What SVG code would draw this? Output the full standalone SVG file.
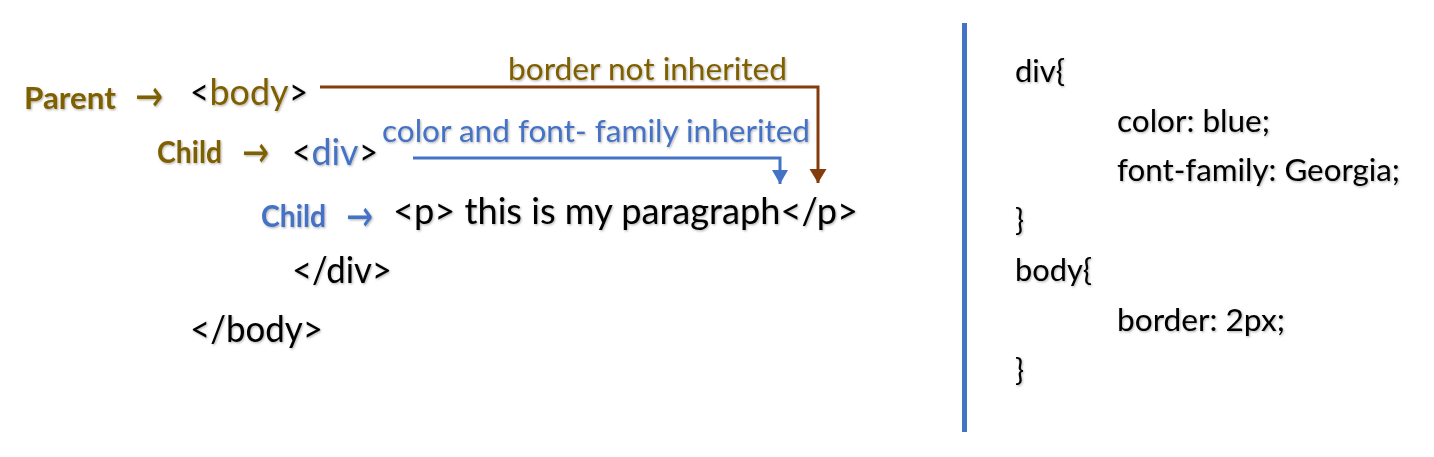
<svg xmlns="http://www.w3.org/2000/svg" width="1434" height="457" viewBox="0 0 1434 457">
  <defs>
    <filter id="sh" x="-5%" y="-20%" width="110%" height="150%">
      <feDropShadow dx="1" dy="1.2" stdDeviation="0.8" flood-color="#000" flood-opacity="0.3"/>
    </filter>
    <marker id="ahBrown" markerWidth="18" markerHeight="18" refX="14" refY="8.5" orient="auto" markerUnits="userSpaceOnUse">
      <path d="M0,0 L14,8.5 L0,17 z" fill="#843C0C"/>
    </marker>
    <marker id="ahBlue" markerWidth="18" markerHeight="18" refX="14" refY="8" orient="auto" markerUnits="userSpaceOnUse">
      <path d="M0,0 L14,8 L0,16 z" fill="#4472C4"/>
    </marker>
  </defs>
  <style>
    text { font-family: Lato, "Open Sans", "Liberation Sans", sans-serif; filter: url(#sh); }
    .code { font-size: 37px; fill: #000; }
    .css { font-size: 30px; fill: #000; }
    .lbl { font-size: 30px; font-weight: bold; }
    .note { font-size: 30px; }
    .arr { font-family: "DejaVu Sans", sans-serif; font-size: 44px; }
    .olive { fill: #7F6000; }
    .blue { fill: #4472C4; }
    .conn { fill: none; stroke-width: 3; }
  </style>
  <rect width="1434" height="457" fill="#fff"/>

  <g id="connectors">
    <path class="conn" d="M320 87 H818 V183" stroke="#843C0C" marker-end="url(#ahBrown)"/>
    <path class="conn" d="M413 158 H780 V184" stroke="#4472C4" stroke-width="2.5" marker-end="url(#ahBlue)"/>
  </g>

  <g id="label-parent">
    <text class="lbl olive" x="24" y="109" textLength="92" lengthAdjust="spacingAndGlyphs">Parent</text>
    <text class="arr olive" x="135" y="111" textLength="28" lengthAdjust="spacingAndGlyphs">→</text>
  </g>
  <g id="node-body">
    <text class="code" x="190" y="105" textLength="19" lengthAdjust="spacingAndGlyphs">&lt;</text>
    <text class="code olive" x="209.5" y="105" textLength="79" lengthAdjust="spacingAndGlyphs">body</text>
    <text class="code" x="289" y="105" textLength="19" lengthAdjust="spacingAndGlyphs">&gt;</text>
  </g>

  <g id="label-child-div">
    <text class="lbl olive" x="157" y="163" textLength="65" lengthAdjust="spacingAndGlyphs">Child</text>
    <text class="arr olive" x="242" y="167" textLength="27" lengthAdjust="spacingAndGlyphs">→</text>
  </g>
  <g id="node-div">
    <text class="code" x="292" y="165" textLength="19" lengthAdjust="spacingAndGlyphs">&lt;</text>
    <text class="code blue" x="311.5" y="165" textLength="47" lengthAdjust="spacingAndGlyphs">div</text>
    <text class="code" x="359" y="165" textLength="19" lengthAdjust="spacingAndGlyphs">&gt;</text>
  </g>

  <g id="label-child-p">
    <text class="lbl blue" x="261" y="227" textLength="65" lengthAdjust="spacingAndGlyphs">Child</text>
    <text class="arr blue" x="346" y="231" textLength="27" lengthAdjust="spacingAndGlyphs">→</text>
  </g>
  <g id="node-p">
    <text class="code" x="393" y="224" textLength="465" lengthAdjust="spacingAndGlyphs">&lt;p&gt; this is my paragraph&lt;/p&gt;</text>
  </g>

  <g id="node-div-close">
    <text class="code" x="292" y="283" textLength="100" lengthAdjust="spacingAndGlyphs">&lt;/div&gt;</text>
  </g>
  <g id="node-body-close">
    <text class="code" x="190" y="342" textLength="133" lengthAdjust="spacingAndGlyphs">&lt;/body&gt;</text>
  </g>

  <g id="note-border">
    <text class="note olive" x="508" y="80" textLength="279" lengthAdjust="spacingAndGlyphs">border not inherited</text>
  </g>
  <g id="note-color">
    <text class="note blue" x="382" y="142" textLength="428" lengthAdjust="spacingAndGlyphs">color and font- family inherited</text>
  </g>

  <g id="separator">
    <line x1="964.5" y1="23" x2="964.5" y2="432" stroke="#4472C4" stroke-width="5"/>
  </g>

  <g id="css-code">
    <text class="css" x="1015" y="82" textLength="50" lengthAdjust="spacingAndGlyphs">div{</text>
    <text class="css" x="1117" y="132" textLength="153" lengthAdjust="spacingAndGlyphs">color: blue;</text>
    <text class="css" x="1117" y="181" textLength="283" lengthAdjust="spacingAndGlyphs">font-family: Georgia;</text>
    <text class="css" x="1015" y="231">}</text>
    <text class="css" x="1015" y="281" textLength="77" lengthAdjust="spacingAndGlyphs">body{</text>
    <text class="css" x="1117" y="331" textLength="168" lengthAdjust="spacingAndGlyphs">border: 2px;</text>
    <text class="css" x="1015" y="381">}</text>
  </g>
</svg>
